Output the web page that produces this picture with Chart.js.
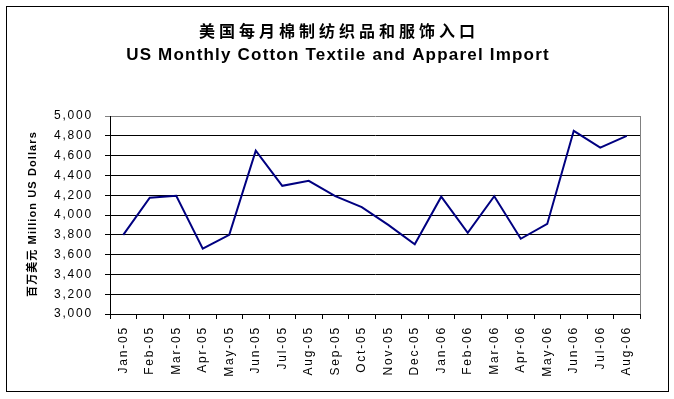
<!DOCTYPE html>
<html>
<head>
<meta charset="utf-8">
<script src="https://cdn.jsdelivr.net/npm/chart.js@4.4.1/dist/chart.umd.min.js"></script>
<style>
  body { margin: 0; background: #fff; }
  #chart { display: block; }
</style>
</head>
<body>
<canvas id="chart" width="674" height="399" style="width:674px;height:399px"></canvas>
<script>
const months = ['Jan-05', 'Feb-05', 'Mar-05', 'Apr-05', 'May-05', 'Jun-05', 'Jul-05', 'Aug-05', 'Sep-05', 'Oct-05',
  'Nov-05', 'Dec-05', 'Jan-06', 'Feb-06', 'Mar-06', 'Apr-06', 'May-06', 'Jun-06', 'Jul-06', 'Aug-06'];
const imports = [3800, 4175, 4195, 3660, 3800, 4650, 4295, 4345, 4190, 4080,
  3900, 3705, 4185, 3820, 4190, 3760, 3910, 4850, 4680, 4800];
const titleCn = '美国每月棉制纺织品和服饰入口';
const titleEn = 'US Monthly Cotton Textile and Apparel Import';
const yTitle = '百万美元 Million US Dollars';

const FONT = "'Liberation Sans', Arial, 'Noto Sans CJK SC', sans-serif";

// Excel-ish wide letter spacing for tick labels
const spacing = {
  id: 'spacing',
  beforeUpdate(chart) { chart.ctx.letterSpacing = '1.8px'; },
  beforeDraw(chart) { chart.ctx.letterSpacing = '1.8px'; }
};

const frame = {
  id: 'frame',
  beforeDatasetsDraw(chart) {
    const { ctx, chartArea: a } = chart;
    ctx.save();
    ctx.strokeStyle = '#808080';
    ctx.lineWidth = 1;
    ctx.beginPath();
    ctx.moveTo(Math.round(a.right) + 0.5, a.top);
    ctx.lineTo(Math.round(a.right) + 0.5, a.bottom);
    ctx.stroke();
    ctx.restore();
  },
  afterDraw(chart) {
    const { ctx } = chart;
    ctx.save();
    ctx.strokeStyle = '#000';
    ctx.lineWidth = 1;
    ctx.strokeRect(6.5, 6.5, 662, 385);

    ctx.fillStyle = '#000';
    ctx.textAlign = 'center';
    ctx.textBaseline = 'middle';
    ctx.letterSpacing = '4px';
    ctx.font = "bold 16px 'Noto Sans CJK SC', sans-serif";
    ctx.fillText(titleCn, 339, 31);
    ctx.letterSpacing = '1.2px';
    ctx.font = "bold 17px " + FONT;
    ctx.fillText(titleEn, 338, 55);

    ctx.translate(33, 214);
    ctx.rotate(-Math.PI / 2);
    ctx.letterSpacing = '1.1px';
    ctx.font = "bold 11px " + FONT;
    ctx.fillText(yTitle, 0, 0);
    ctx.restore();
  }
};

new Chart(document.getElementById('chart'), {
  type: 'line',
  data: {
    labels: months,
    datasets: [{
      data: imports,
      borderColor: '#000080',
      borderWidth: 2,
      pointRadius: 0,
      tension: 0,
      fill: false
    }]
  },
  options: {
    responsive: false,
    animation: false,
    layout: { padding: { left: 0, right: 34, top: 116, bottom: 0 } },
    plugins: { legend: { display: false }, tooltip: { enabled: false }, title: { display: false } },
    scales: {
      x: {
        type: 'category',
        offset: true,
        afterFit(scale) { scale.height = 85; },
        grid: { display: true, drawOnChartArea: false, drawTicks: true, tickLength: 5, color: '#000', offset: true },
        border: { display: true, color: '#000', width: 1 },
        ticks: {
          autoSkip: false, minRotation: 90, maxRotation: 90, padding: 7,
          color: '#000', font: { family: FONT, size: 12 }
        }
      },
      y: {
        min: 3000,
        max: 5000,
        afterFit(scale) { scale.width = 110; },
        grid: {
          drawTicks: true, tickLength: 5,
          color: (c) => (c.tick && c.tick.value === 5000 ? '#808080' : '#000')
        },
        border: { display: true, color: '#000', width: 1 },
        ticks: {
          stepSize: 200, padding: 12, color: '#000',
          font: { family: FONT, size: 12 },
          callback: (v) => v.toLocaleString('en-US')
        }
      }
    }
  },
  plugins: [spacing, frame]
});
</script>
</body>
</html>
